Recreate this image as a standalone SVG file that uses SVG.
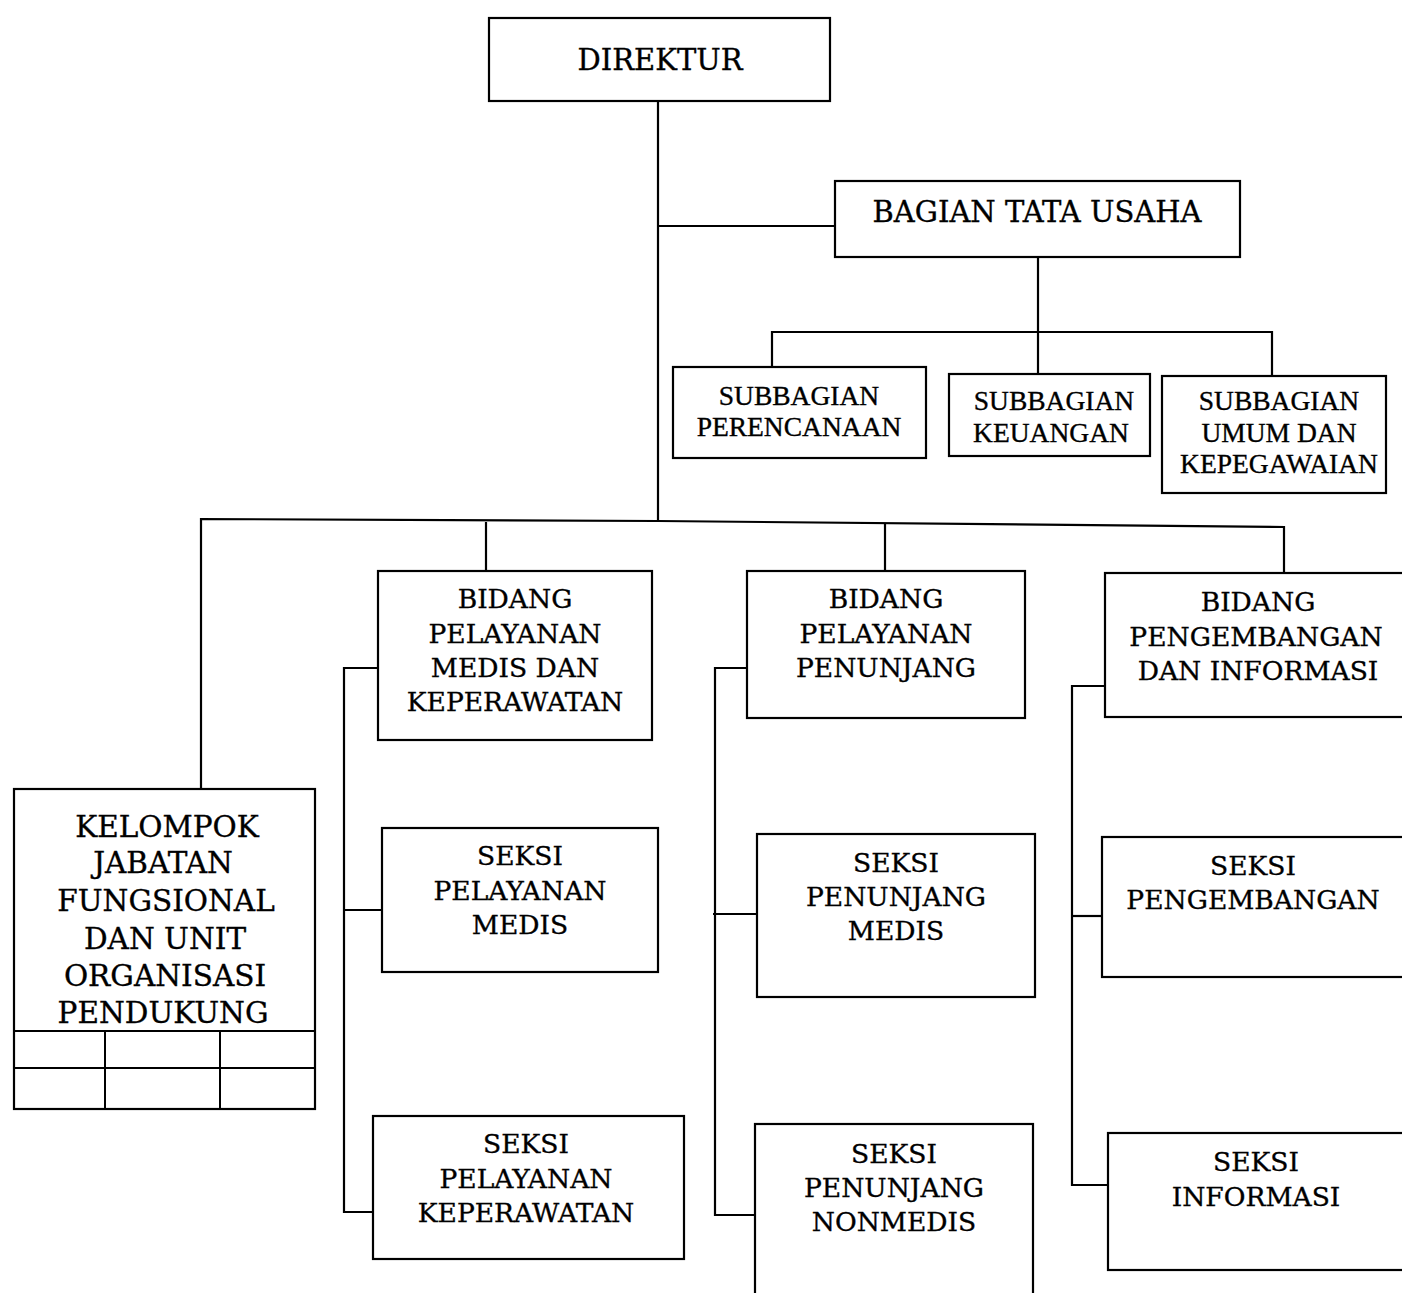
<svg xmlns="http://www.w3.org/2000/svg" width="1402" height="1293" viewBox="0 0 1402 1293">
<style>
rect.box{fill:#fff;stroke:#000;stroke-width:2.2}
.c line,.c polyline{stroke:#000;stroke-width:2.2;fill:none}
.grid line{stroke:#000;stroke-width:2}
text{font-family:"DejaVu Serif","Liberation Serif",serif;text-anchor:middle;fill:#000;font-size:26.5px;stroke:#000;stroke-width:0.35}
.big{font-size:29px}
.kel{font-size:29.5px}
.sub{font-family:"Liberation Serif","DejaVu Serif",serif;font-size:27.5px}
</style>
<rect width="1402" height="1293" fill="#fff"/>
<g class="c" id="connectors">
<line x1="658" y1="101" x2="658" y2="522"/>
<line x1="658" y1="226" x2="835" y2="226"/>
<line x1="1038" y1="257" x2="1038" y2="374"/>
<polyline points="772,367 772,332 1272,332 1272,376"/>
<polyline points="201,789 201,519 658,521 1284,527 1284,573"/>
<line x1="486" y1="522" x2="486" y2="571"/>
<line x1="885" y1="524" x2="885" y2="571"/>
<polyline points="378,668 344,668 344,1212 373,1212"/>
<line x1="344" y1="910" x2="382" y2="910"/>
<polyline points="747,668 715,668 715,1215 755,1215"/>
<line x1="713" y1="914" x2="757" y2="914"/>
<polyline points="1105,686 1072,686 1072,1185 1108,1185"/>
<line x1="1072" y1="916" x2="1102" y2="916"/>
</g>
<g id="direktur"><rect class="box" x="489" y="18" width="341" height="83"/><text class="big" x="660" y="70">DIREKTUR</text></g>
<g id="bagian-tata-usaha"><rect class="box" x="835" y="181" width="405" height="76"/><text class="big" x="1037" y="222">BAGIAN TATA USAHA</text></g>
<g id="subbagian-perencanaan"><rect class="box" x="673" y="367" width="253" height="91"/><text class="sub" x="799" y="405">SUBBAGIAN</text><text class="sub" x="799" y="436">PERENCANAAN</text></g>
<g id="subbagian-keuangan"><rect class="box" x="949" y="374" width="201" height="82"/><text class="sub" x="1054" y="410">SUBBAGIAN</text><text class="sub" x="1051" y="442">KEUANGAN</text></g>
<g id="subbagian-umum"><rect class="box" x="1162" y="376" width="224" height="117"/><text class="sub" x="1279" y="410">SUBBAGIAN</text><text class="sub" x="1279" y="442">UMUM DAN</text><text class="sub" x="1279" y="473">KEPEGAWAIAN</text></g>
<g id="kelompok">
<rect class="box" x="14" y="789" width="301" height="320"/>
<text class="kel" x="167" y="837">KELOMPOK</text>
<text class="kel" x="163" y="873">JABATAN</text>
<text class="kel" x="166" y="911">FUNGSIONAL</text>
<text class="kel" x="165" y="949">DAN UNIT</text>
<text class="kel" x="165" y="986">ORGANISASI</text>
<text class="kel" x="163" y="1023">PENDUKUNG</text>
<g class="grid"><line x1="14" y1="1031" x2="315" y2="1031"/><line x1="14" y1="1068" x2="315" y2="1068"/><line x1="105" y1="1031" x2="105" y2="1109"/><line x1="220" y1="1031" x2="220" y2="1109"/></g>
</g>
<g id="bidang-medis"><rect class="box" x="378" y="571" width="274" height="169"/><text x="515" y="608">BIDANG</text><text x="515" y="643">PELAYANAN</text><text x="515" y="677">MEDIS DAN</text><text x="515" y="711">KEPERAWATAN</text></g>
<g id="seksi-pelayanan-medis"><rect class="box" x="382" y="828" width="276" height="144"/><text x="520" y="865">SEKSI</text><text x="520" y="900">PELAYANAN</text><text x="520" y="934">MEDIS</text></g>
<g id="seksi-pelayanan-keperawatan"><rect class="box" x="373" y="1116" width="311" height="143"/><text x="526" y="1153">SEKSI</text><text x="526" y="1188">PELAYANAN</text><text x="526" y="1222">KEPERAWATAN</text></g>
<g id="bidang-penunjang"><rect class="box" x="747" y="571" width="278" height="147"/><text x="886" y="608">BIDANG</text><text x="886" y="643">PELAYANAN</text><text x="886" y="677">PENUNJANG</text></g>
<g id="seksi-penunjang-medis"><rect class="box" x="757" y="834" width="278" height="163"/><text x="896" y="872">SEKSI</text><text x="896" y="906">PENUNJANG</text><text x="896" y="940">MEDIS</text></g>
<g id="seksi-penunjang-nonmedis"><rect class="box" x="755" y="1124" width="278" height="180"/><text x="894" y="1163">SEKSI</text><text x="894" y="1197">PENUNJANG</text><text x="894" y="1231">NONMEDIS</text></g>
<g id="bidang-pengembangan"><rect class="box" x="1105" y="573" width="310" height="144"/><text x="1258" y="611">BIDANG</text><text x="1256" y="646">PENGEMBANGAN</text><text x="1258" y="680">DAN INFORMASI</text></g>
<g id="seksi-pengembangan"><rect class="box" x="1102" y="837" width="313" height="140"/><text x="1253" y="875">SEKSI</text><text x="1253" y="909">PENGEMBANGAN</text></g>
<g id="seksi-informasi"><rect class="box" x="1108" y="1133" width="307" height="137"/><text x="1256" y="1171">SEKSI</text><text x="1256" y="1206">INFORMASI</text></g>
</svg>
